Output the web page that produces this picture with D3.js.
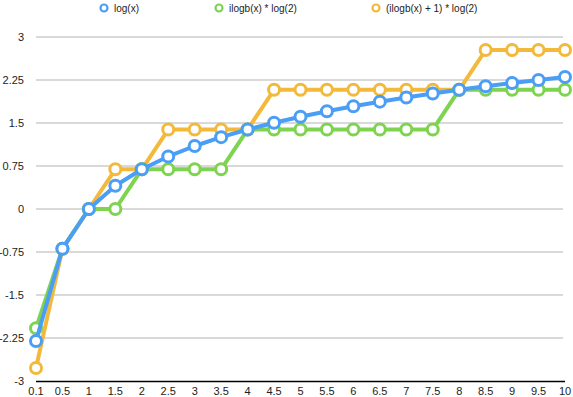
<!DOCTYPE html>
<html><head><meta charset="utf-8">
<script src="https://cdn.jsdelivr.net/npm/d3@7"></script>
<style>body{margin:0;background:#fff}svg{display:block;font-family:"Liberation Sans",Arial,Helvetica,sans-serif}</style>
</head><body><svg id="c" width="573" height="397"></svg>
<script>
const categories = ["0.1","0.5","1","1.5","2","2.5","3","3.5","4","4.5","5","5.5","6","6.5","7","7.5","8","8.5","9","9.5","10"];
const logX = [-2.303,-0.693,0,0.405,0.693,0.916,1.099,1.253,1.386,1.504,1.609,1.705,1.792,1.872,1.946,2.015,2.079,2.140,2.197,2.251,2.303];
const ilogbLog2 = [-2.079,-0.693,0,0,0.693,0.693,0.693,0.693,1.386,1.386,1.386,1.386,1.386,1.386,1.386,1.386,2.079,2.079,2.079,2.079,2.079];
const ilogbPlus1Log2 = [-2.773,-0.693,0,0.693,0.693,1.386,1.386,1.386,1.386,2.079,2.079,2.079,2.079,2.079,2.079,2.079,2.079,2.773,2.773,2.773,2.773];
const yTicks = [-3,-2.25,-1.5,-0.75,0,0.75,1.5,2.25,3];
const seriesNames = ["log(x)","ilogb(x) * log(2)","(ilogb(x) + 1) * log(2)"];
const colors = ["#4a9ef5","#7ed351","#f2b93b"];

const svg = d3.select("#c");
const x = d3.scalePoint().domain(categories).range([36,565]);
const y = d3.scaleLinear().domain([-3,3]).range([381,37]);

// gridlines
svg.append("g").selectAll("line").data(yTicks.filter(t=>t!==-3)).join("line")
  .attr("x1",36).attr("x2",563).attr("y1",d=>y(d)).attr("y2",d=>y(d))
  .attr("stroke","#b3b3b3").attr("stroke-width",1);

// y labels
svg.append("g").selectAll("text").data(yTicks).join("text")
  .attr("x",24).attr("y",d=>y(d)).attr("dy","0.35em").attr("text-anchor","end")
  .attr("font-size",11).attr("fill","#222").text(d=>d);

// x axis
svg.append("line").attr("x1",36).attr("x2",565).attr("y1",381.5).attr("y2",381.5).attr("stroke","#000").attr("stroke-width",1.5);
svg.append("g").selectAll("text").data(categories).join("text")
  .attr("x",d=>x(d)).attr("y",391).attr("dy","0.35em").attr("text-anchor","middle")
  .attr("font-size",11).attr("fill","#222").text(d=>d);

const data = [logX, ilogbLog2, ilogbPlus1Log2];
const order = [2,1,0];
const line = d3.line().x((d,i)=>x(categories[i])).y(d=>y(d));
order.forEach(k=>{
  const g = svg.append("g");
  g.append("path").datum(data[k]).attr("d",line).attr("fill","none")
    .attr("stroke",colors[k]).attr("stroke-width",4).attr("stroke-linejoin","round");
  g.selectAll("circle").data(data[k]).join("circle")
    .attr("cx",(d,i)=>x(categories[i])).attr("cy",d=>y(d)).attr("r",5.5)
    .attr("fill","#fff").attr("stroke",colors[k]).attr("stroke-width",3);
});

// legend
const lx = [104,219,376];
seriesNames.forEach((n,i)=>{
  svg.append("circle").attr("cx",lx[i]).attr("cy",8).attr("r",3.5).attr("fill","#fff")
    .attr("stroke",colors[i]).attr("stroke-width",2.2);
  svg.append("text").attr("x",lx[i]+10).attr("y",8).attr("dy","0.35em")
    .attr("font-size",10).attr("fill","#222").text(n);
});
</script></body></html>
